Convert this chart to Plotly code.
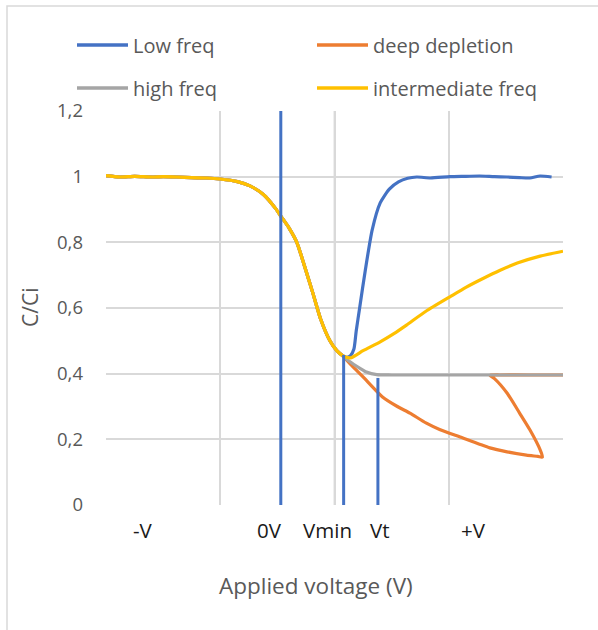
import plotly.graph_objects as go

# --- data -----------------------------------------------------------------
# shared accumulation/depletion branch (all four curves follow it)
common_v = [0.0, 0.12, 0.25, 0.4, 0.5, 0.62, 0.75, 0.88, 1.0, 1.15, 1.26, 1.38,
            1.48, 1.53, 1.6, 1.67, 1.74, 1.81, 1.88, 1.96, 2.02, 2.07]
common_c = [1.003, 0.999, 1.001, 0.999, 1.0, 0.999, 0.997, 0.996, 0.993, 0.985,
            0.972, 0.945, 0.905, 0.88, 0.845, 0.80, 0.725, 0.646, 0.565, 0.50,
            0.47, 0.455]

low_v = [2.11, 2.14, 2.17, 2.19, 2.22, 2.27, 2.33, 2.40, 2.48, 2.56, 2.64, 2.72,
         2.84, 3.01, 3.15, 3.27, 3.40, 3.51, 3.62, 3.71, 3.80, 3.90]
low_c = [0.45, 0.455, 0.475, 0.53, 0.60, 0.716, 0.838, 0.92, 0.962, 0.984, 0.995,
         0.999, 0.996, 1.0, 1.001, 1.002, 1.0, 0.999, 0.997, 0.996, 1.002, 0.999]

deep_v = [2.15, 2.25, 2.42, 2.55, 2.66, 2.80, 2.92, 3.10, 3.36, 3.51, 3.68, 3.78,
          3.82, 3.80, 3.71, 3.62, 3.51, 3.40, 3.36, 3.45, 3.7, 4.0]
deep_c = [0.425, 0.39, 0.329, 0.30, 0.28, 0.25, 0.23, 0.207, 0.174, 0.162, 0.152,
          0.148, 0.146, 0.168, 0.229, 0.28, 0.341, 0.385, 0.395, 0.396, 0.396,
          0.396]

high_v = [2.12, 2.17, 2.22, 2.28, 2.37, 2.5, 3.0, 3.5, 4.0]
high_c = [0.44, 0.428, 0.417, 0.405, 0.397, 0.396, 0.396, 0.396, 0.396]

inter_v = [2.14, 2.25, 2.40, 2.52, 2.63, 2.80, 3.01, 3.15, 3.30, 3.45, 3.60, 3.80, 4.0]
inter_c = [0.448, 0.47, 0.497, 0.522, 0.548, 0.59, 0.634, 0.663, 0.69, 0.715,
           0.737, 0.758, 0.773]

# characteristic voltages marked with vertical lines
mark_v = [1.53, 2.08, 2.38]
mark_top = [1.2, 0.457, 0.387]

# x-axis labels and where they sit
xlabel_text = ["-V", "0V", "Vmin", "Vt", "+V"]
xlabel_pos = [0.32, 1.435, 1.94, 2.40, 3.22]

series_names = ["Low freq", "deep depletion", "high freq", "intermediate freq"]
series_colors = ["#4472C4", "#ED7D31", "#A5A5A5", "#FFC000"]

# --- figure ---------------------------------------------------------------
W, H = 598, 630
L, R, T, B = 106, 35, 111, 125
PW, PH = W - L - R, H - T - B


def px(x):
    return (x - L) / PW


def py(y):
    return (H - B - y) / PH


FONT = "Open Sans"
fig = go.Figure()

branches = [(low_v, low_c), (deep_v, deep_c), (high_v, high_c), (inter_v, inter_c)]
for name, color, (bv, bc) in zip(series_names, series_colors, branches):
    fig.add_trace(go.Scatter(
        x=common_v + bv, y=common_c + bc, mode="lines", name=name,
        line=dict(color=color, width=3.2, shape="spline", smoothing=0.6),
        showlegend=False, hoverinfo="skip"))

for v, top in zip(mark_v, mark_top):
    fig.add_trace(go.Scatter(
        x=[v, v], y=[0, top], mode="lines", showlegend=False,
        line=dict(color="#4472C4", width=3), hoverinfo="skip"))

shapes = []
# slightly darker reference line at x = 2
shapes.append(dict(type="line", xref="x", yref="y", x0=2, x1=2, y0=0, y1=1.2,
                   line=dict(color="#BFBFBF", width=1.5), layer="below"))
# chart frame
shapes.append(dict(type="rect", xref="paper", yref="paper",
                   x0=px(7), x1=px(640), y0=py(660), y1=py(6),
                   line=dict(color="#D9D9D9", width=1.5)))

annotations = []
# legend, two rows by two columns
legend_rows = [45, 88]
legend_cols = [(77, 128), (317, 368)]
for i, (name, color) in enumerate(zip(series_names, series_colors)):
    row, col = divmod(i, 2)
    y = legend_rows[row]
    x0, x1 = legend_cols[col]
    shapes.append(dict(type="line", xref="paper", yref="paper",
                       x0=px(x0), x1=px(x1), y0=py(y), y1=py(y),
                       line=dict(color=color, width=3.5)))
    annotations.append(dict(xref="paper", yref="paper", x=px(x1 + 3), y=py(y),
                            text=name, showarrow=False, xanchor="left",
                            yanchor="middle",
                            font=dict(family=FONT, size=20, color="#595959")))

for t, v in zip(xlabel_text, xlabel_pos):
    annotations.append(dict(xref="x", yref="paper", x=v, y=py(530), text=t,
                            showarrow=False, xanchor="center", yanchor="middle",
                            font=dict(family=FONT, size=20.5, color="#1a1a1a")))

annotations.append(dict(xref="paper", yref="paper", x=px(316), y=py(585),
                        text="Applied voltage (V)", showarrow=False,
                        xanchor="center", yanchor="middle",
                        font=dict(family=FONT, size=22.5, color="#595959")))
annotations.append(dict(xref="paper", yref="paper", x=px(30), y=py(308),
                        text="C/Ci", showarrow=False, textangle=-90,
                        xanchor="center", yanchor="middle",
                        font=dict(family=FONT, size=21, color="#595959")))

fig.update_layout(
    width=W, height=H,
    margin=dict(l=L, r=R, t=T, b=B, pad=0),
    paper_bgcolor="white", plot_bgcolor="white",
    separators=", ",
    showlegend=False,
    shapes=shapes, annotations=annotations,
    xaxis=dict(range=[0, 4], dtick=1, tick0=0, showticklabels=False,
               showgrid=True, gridcolor="#D9D9D9", gridwidth=1.5,
               zeroline=False, showline=False, ticks=""),
    yaxis=dict(range=[0, 1.2], dtick=0.2, tick0=0, showgrid=True,
               gridcolor="#D9D9D9", gridwidth=1.5, zeroline=False,
               showline=False, ticks="", ticklabelstandoff=22,
               tickfont=dict(family=FONT, size=18.5, color="#595959")),
)

fig.write_html("out.html")
